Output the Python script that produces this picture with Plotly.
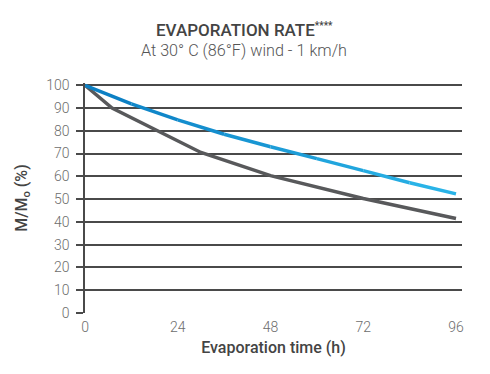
import plotly.graph_objects as go

# Data
blue_t = [0, 12, 24, 36, 48, 60, 72, 84, 96]
blue_v = [100, 91.8, 84.8, 78.5, 73.0, 67.8, 62.5, 57.2, 52.3]
gray_t = [0, 7, 30, 48, 72, 96]
gray_v = [100, 90, 70.5, 60.3, 50.3, 41.5]
x_ticks = [0, 24, 48, 72, 96]
y_ticks = [0, 10, 20, 30, 40, 50, 60, 70, 80, 90, 100]

BLUE_START = (10, 124, 193)
BLUE_END = (43, 183, 234)
GRAY = "#58595b"
GRID = "#4a4a4a"
FONT = "Roboto"

W, H = 490, 374
OFF = 8  # page body offset
ML, MR, MT, MB = 85 - OFF, 28 + OFF, 83 - OFF, 61 + OFF

fig = go.Figure()

fig.add_trace(go.Scatter(x=gray_t, y=gray_v, mode="lines",
                         line=dict(color=GRAY, width=3.5), showlegend=False,
                         hoverinfo="skip"))

# blue line with a gradient: one segment per pair of data points
n = len(blue_t) - 1
for i in range(n):
    f = (i + 0.5) / n
    c = tuple(round(BLUE_START[k] + (BLUE_END[k] - BLUE_START[k]) * f) for k in range(3))
    fig.add_trace(go.Scatter(x=blue_t[i:i + 2], y=blue_v[i:i + 2], mode="lines",
                             line=dict(color="rgb(%d,%d,%d)" % c, width=3.5),
                             showlegend=False, hoverinfo="skip"))

plot_h = H - MT - MB
plot_w = W - ML - MR


def py(ypx):
    return (H - MB - (ypx - OFF)) / plot_h


def px(xpx):
    return (xpx - OFF - ML) / plot_w


fig.update_layout(
    width=W, height=H,
    margin=dict(l=ML, r=MR, t=MT, b=MB),
    paper_bgcolor="white", plot_bgcolor="white",
    font=dict(family=FONT, color="#6d6d6d", size=14),
    annotations=[
        dict(text="EVAPORATION RATE<sup><span style='font-size:10px'>****</span></sup>",
             x=px(244), xref="paper", xanchor="center",
             y=py(30), yref="paper", yanchor="middle", showarrow=False,
             font=dict(family=FONT, size=17, color="#444444", weight=500)),
        dict(text="At 30° C (86°F) wind - 1 km/h",
             x=px(244), xref="paper", xanchor="center",
             y=py(51), yref="paper", yanchor="middle", showarrow=False,
             font=dict(family=FONT, size=16.2, color="#555555", weight=300)),
    ],
)

fig.update_xaxes(
    range=[0, 96 * (462 - 85) / (456 - 85)],
    tickvals=x_ticks, ticktext=[str(v) for v in x_ticks],
    showgrid=False, zeroline=False, automargin=False,
    showline=False, ticks="", ticklabelstandoff=4,
    tickfont=dict(family=FONT, size=14, color="#6d6d6d", weight=300),
    title=dict(text="Evaporation time (h)", standoff=7,
               font=dict(family=FONT, size=16, color="#444444", weight=500)),
)
fig.update_yaxes(
    range=[0, 101],
    tickvals=y_ticks, ticktext=[str(v) for v in y_ticks],
    showgrid=True, gridcolor=GRID, gridwidth=1.5, automargin=False,
    zeroline=False, showline=True, linecolor=GRID, linewidth=1.5,
    ticks="outside", ticklen=7, tickcolor=GRID, tickwidth=1.5,
    ticklabelstandoff=4,
    tickfont=dict(family=FONT, size=14, color="#6d6d6d", weight=300),
    title=dict(text="M/M<sub>o</sub> (%)", standoff=15,
               font=dict(family=FONT, size=16, color="#444444", weight=500)),
)

fig.write_html("out.html")
